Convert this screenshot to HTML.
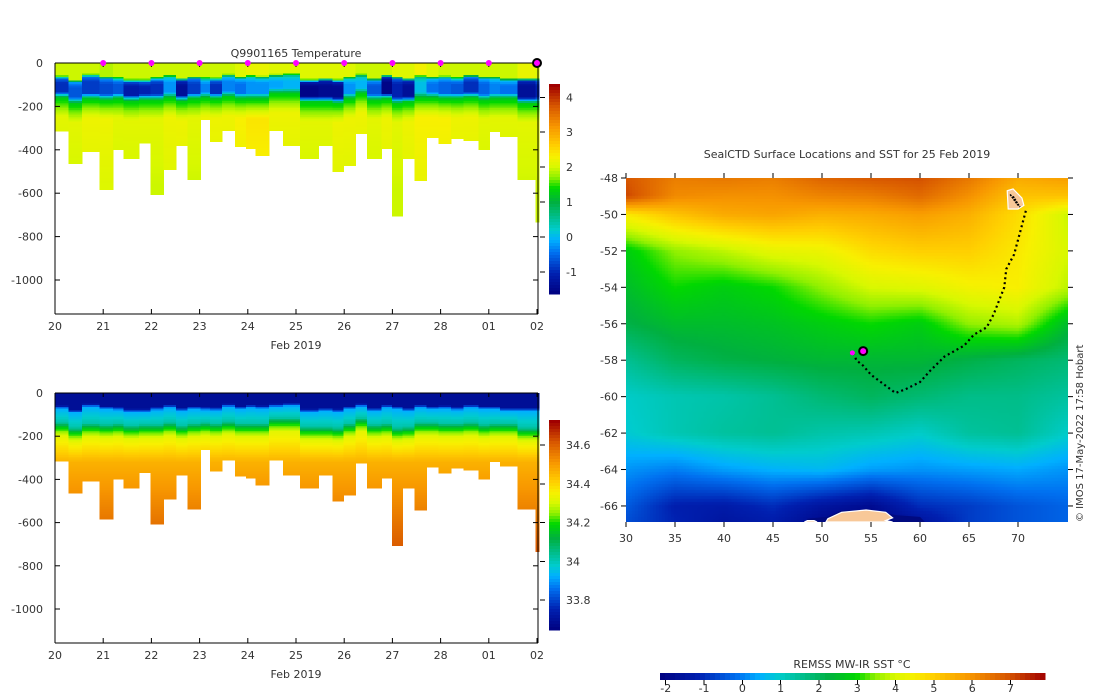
<!DOCTYPE html>
<html><head><meta charset="utf-8">
<style>
body{margin:0;background:#fff;width:1100px;height:700px;overflow:hidden;font-family:"DejaVu Sans","Liberation Sans",sans-serif;}
#root{position:relative;width:1100px;height:700px;}
svg text{font-family:"DejaVu Sans","Liberation Sans",sans-serif;font-size:11px;fill:#333;}
#map{position:absolute;left:626px;top:178px;}
</style></head>
<body><div id="root">
<canvas id="map" width="442" height="344"></canvas>
<svg id="svg" width="1100" height="700" style="position:absolute;left:0;top:0"></svg>
</div>
<script>
// ---------- DATA ----------
const tickDays=[0,1,2,3,4,5,6,7,8,9,10];
const tickLabels=["20","21","22","23","24","25","26","27","28","01","02"];
const depthTicks=[0,-200,-400,-600,-800,-1000];
const profStart=[0,0.285,0.562,0.923,1.208,1.423,1.738,1.985,2.254,2.508,2.754,3.023,3.215,3.462,3.731,3.962,4.162,4.438,4.731,5.085,5.462,5.754,5.985,6.231,6.477,6.769,6.992,7.208,7.454,7.708,7.954,8.215,8.477,8.785,9.015,9.231,9.6,9.969];
const profEnd=10.04;
const maxDepth=[314,463,408,583,399,440,368,606,491,380,537,261,362,311,385,394,426,311,380,440,380,500,472,325,440,394,706,440,541,343,371,348,356,399,316,339,537,733];
const mld=[58,77,50,61,64,74,74,64,54,69,61,64,66,50,61,54,58,50,46,74,69,74,61,49,69,54,61,69,54,61,58,64,54,61,61,69,69,69];
const coreTemp=[-0.9,-0.6,-0.8,-0.7,-0.6,-1.1,-1.0,-0.9,-0.2,-1.3,-0.8,-0.3,-0.9,-0.3,-0.4,-0.2,-0.2,-0.1,0.0,-1.5,-1.4,-1.4,-0.2,0.0,-0.6,-1.5,-1.0,-1.3,0.1,-0.4,-0.5,-0.6,-0.9,-0.5,-0.3,-0.4,-1.3,-1.0];
const coreBot=[160,185,165,170,165,175,170,170,160,175,165,160,165,155,165,165,165,140,140,180,180,185,165,140,170,165,185,180,160,160,165,165,160,170,165,165,185,185];
const surfTemp=[2.0,2.0,2.0,1.9,2.0,2.0,2.0,2.0,2.0,2.0,2.0,2.0,2.0,2.0,2.1,2.2,2.2,2.1,2.1,2.1,2.1,2.1,2.1,2.0,2.0,2.0,2.1,2.1,2.3,2.1,2.0,2.0,2.0,2.0,2.0,2.0,2.2,2.1];
const deepTemp=[2.0,2.0,2.1,2.1,2.0,2.0,2.0,2.0,2.1,2.1,2.0,2.1,2.1,2.1,2.2,2.3,2.3,2.1,2.1,2.0,2.0,2.1,2.1,2.1,2.0,2.1,2.0,2.1,2.2,2.2,2.2,2.1,2.1,2.0,2.0,2.0,2.0,2.0];
const markerDays=[1,2,3,4,5,6,7,8,9];
const tempCbTicks=[4,3,2,1,0,-1];
const salCbTicks=[34.6,34.4,34.2,34,33.8];
const mapLons=[30,35,40,45,50,55,60,65,70,75];
const mapLats=[-48,-49,-50,-52,-54,-56,-58,-60,-62,-64,-66,-67];
const sstGrid=[
[6.9,6.3,6.4,6.3,6.7,6.9,7.0,6.4,5.6,5.8],
[7.1,6.1,6.0,6.0,6.2,6.3,6.6,6.0,5.2,5.2],
[4.6,5.2,5.6,5.7,5.5,5.6,5.8,5.5,4.8,3.9],
[2.8,3.5,3.8,4.2,4.3,4.8,5.0,5.0,4.6,4.0],
[2.5,3.0,2.8,3.0,3.5,4.0,4.1,4.4,4.5,3.8],
[2.2,2.5,2.5,2.6,2.8,3.0,2.8,3.5,3.7,2.5],
[1.5,2.0,2.2,2.3,2.4,2.4,2.4,2.2,2.0,1.8],
[1.0,1.2,1.3,1.5,1.8,2.0,1.8,1.6,1.6,1.4],
[0.9,1.2,1.4,1.5,1.3,1.2,1.0,1.4,1.5,1.0],
[0.2,0.0,0.3,0.5,0.6,0.3,0.2,0.3,0.4,0.2],
[-0.4,-1.2,-1.3,-1.0,-1.5,-1.8,-1.0,-0.8,-0.5,-0.3],
[-0.6,-1.1,-1.5,-1.3,-1.9,-2.0,-1.6,-0.8,-0.5,-0.3]];
const trackLon=[70.8,70.3,69.6,68.8,68.6,67.5,66.8,65.5,64.5,62.5,61,60,58.5,57.5,56.5,55,54.2,53.5,53.3];
const trackLat=[-49.8,-50.8,-52.2,-53.0,-54.0,-55.5,-56.2,-56.6,-57.2,-57.8,-58.6,-59.2,-59.6,-59.8,-59.4,-58.8,-58.3,-58.0,-57.7];
const sstTicks=[-2,-1,0,1,2,3,4,5,6,7];
const mapXTicks=[30,35,40,45,50,55,60,65,70];
const mapYTicks=[-48,-50,-52,-54,-56,-58,-60,-62,-64,-66];

// ---------- helpers ----------
const NS="http://www.w3.org/2000/svg";
const svgRoot=document.getElementById('svg');
function el(t,a,p){const e=document.createElementNS(NS,t);for(const k in a)e.setAttribute(k,a[k]);(p||svgRoot).appendChild(e);return e;}
const stops=[[0,[0,0,127]],[0.1,[0,32,176]],[0.2,[0,112,240]],[0.26,[0,176,255]],[0.31,[0,204,204]],[0.37,[0,190,140]],[0.44,[0,176,64]],[0.51,[0,216,0]],[0.56,[144,240,0]],[0.61,[216,248,0]],[0.66,[248,240,0]],[0.71,[255,208,0]],[0.8,[248,152,0]],[0.9,[216,88,0]],[1,[160,0,0]]];
function cmapRGB(t){t=Math.max(0,Math.min(1,t));for(let i=1;i<stops.length;i++){if(t<=stops[i][0]){const a=stops[i-1],b=stops[i],f=(t-a[0])/(b[0]-a[0]);return a[1].map((v,j)=>Math.round(v+(b[1][j]-v)*f));}}return stops[stops.length-1][1];}
function cmap(t){const c=cmapRGB(t);return `rgb(${c[0]},${c[1]},${c[2]})`;}
function lerp(a,b,f){return a+(b-a)*Math.max(0,Math.min(1,f));}

function tempAt(i,z){
  const m=mld[i],cb=coreBot[i];
  if(z<m) return surfTemp[i];
  if(z<m+15) return lerp(surfTemp[i],coreTemp[i]+0.4,(z-m)/15);
  if(z<cb-25) return lerp(coreTemp[i]+0.4,coreTemp[i],(z-m-15)/20);
  if(z<cb) return lerp(coreTemp[i],1.3,(z-cb+25)/25);
  if(z<cb+90) return lerp(1.3,deepTemp[i]+0.15,(z-cb)/90);
  return lerp(deepTemp[i]+0.15,deepTemp[i],(z-cb-90)/300);
}
function salAt(i,z){
  const m=mld[i],cb=coreBot[i];
  if(z<m) return 33.7;
  if(z<m+15) return lerp(33.7,33.93,(z-m)/15);
  if(z<cb-25) return lerp(33.93,34.02,(z-m-15)/(cb-40-m));
  if(z<cb) return lerp(34.02,34.18,(z-cb+25)/25);
  if(z<cb+40) return lerp(34.18,34.33,(z-cb)/40);
  if(z<320) return lerp(34.33,34.47,(z-cb-40)/(320-cb-40));
  return lerp(34.47,34.62,(z-320)/400);
}

function section(opt){
  const x0=55,x1=537;
  const X=d=>x0+(d/10)*(x1-x0);
  const Y=z=>opt.y0+(-z/1000)*(opt.y1000-opt.y0);
  const g=el('g',{'shape-rendering':'crispEdges'});
  
  
  for(let i=0;i<profStart.length;i++){
    const xa=X(profStart[i]),xb=X(i+1<profStart.length?profStart[i+1]:profEnd);
    for(let z=0;z<maxDepth[i];z+=8){
      const z2=Math.min(z+8,maxDepth[i]);
      const v=opt.f(i,z+4);
      const r=el('rect',{x:xa,y:Y(-z),width:xb-xa+0.5,height:Y(-z2)-Y(-z)+0.5,fill:cmap((v-opt.vmin)/(opt.vmax-opt.vmin))},g);
      
      
    }
  }
  const yb=opt.ybot;
  const ax=el('g',{stroke:'#000','stroke-width':1,fill:'none'});
  
  
  el('line',{x1:x0,y1:opt.y0,x2:x0,y2:yb},ax);
  el('line',{x1:x0,y1:yb,x2:x1+1,y2:yb},ax);
  el('line',{x1:x0,y1:opt.y0,x2:x1+1,y2:opt.y0},ax);
  el('line',{x1:x1+1,y1:opt.y0,x2:x1+1,y2:yb},ax);
  tickDays.forEach((d,k)=>{
    el('line',{x1:X(d),y1:yb,x2:X(d),y2:yb-5},ax);
    el('line',{x1:X(d),y1:opt.y0,x2:X(d),y2:opt.y0+4},ax);
    const t=el('text',{x:X(d),y:yb+16,'text-anchor':'middle'});t.textContent=tickLabels[k];
    
  });
  depthTicks.forEach(v=>{
    el('line',{x1:x0,y1:Y(v),x2:x0+5,y2:Y(v)},ax);
    el('line',{x1:x1+1,y1:Y(v),x2:x1-4,y2:Y(v)},ax);
    const t=el('text',{x:x0-12,y:Y(v)+4,'text-anchor':'end'});t.textContent=v;
    
  });
  const xl=el('text',{x:296,y:yb+35,'text-anchor':'middle'});xl.textContent='Feb 2019';
  
  const cb=el('g',{'shape-rendering':'crispEdges'});
  
  const ct=opt.cbTop,cbb=opt.cbBot;
  for(let y=ct;y<cbb;y+=3){const t=1-(y-ct)/(cbb-ct);el('rect',{x:549,y:y,width:11,height:3.5,fill:cmap(t)},cb);}
  opt.cbTicks.forEach(v=>{
    const y=cbb-(v-opt.vmin)/(opt.vmax-opt.vmin)*(cbb-ct);
    el('line',{x1:540,y1:y,x2:545,y2:y,stroke:'#000'},cb);
    const t=el('text',{x:566,y:y+4});t.textContent=v;
    
  });
  return {X,Y};
}

const topSec=section({name:'temperature',y0:63,y1000:280,ybot:314,f:tempAt,vmin:-1.6,vmax:4.38,cbTop:84,cbBot:293,cbTicks:tempCbTicks});
const ttl=el('text',{x:296,y:57,'text-anchor':'middle'});ttl.textContent='Q9901165  Temperature';

markerDays.forEach(d=>{
  const c=el('circle',{cx:topSec.X(d),cy:63,r:3,fill:'#ff00ff'});
  
});
const lm=el('circle',{cx:topSec.X(10),cy:63,r:4,fill:'#ff00ff',stroke:'#000','stroke-width':2});


section({name:'salinity',y0:393,y1000:609,ybot:643,f:salAt,vmin:33.65,vmax:34.73,cbTop:420,cbBot:629,cbTicks:salCbTicks});

// ---------- MAP ----------
const mx0=626,my0=178;
const LX=l=>mx0+(l-30)*9.8;
const LY=l=>my0+(-48-l)*18.22;
const svmin=-2.15,svmax=7.9;
(function(){
  const cv=document.getElementById('map'),ctx=cv.getContext('2d');
  function sst(lon,lat){
    let j=0;while(j<mapLons.length-2&&lon>mapLons[j+1])j++;
    let i=0;while(i<mapLats.length-2&&lat<mapLats[i+1])i++;
    const fx=Math.max(0,Math.min(1,(lon-mapLons[j])/(mapLons[j+1]-mapLons[j])));
    const fy=Math.max(0,Math.min(1,(lat-mapLats[i])/(mapLats[i+1]-mapLats[i])));
    const a=sstGrid[i][j],b=sstGrid[i][j+1],c=sstGrid[i+1][j],d=sstGrid[i+1][j+1];
    return (a*(1-fx)+b*fx)*(1-fy)+(c*(1-fx)+d*fx)*fy;
  }
  for(let py=0;py<344;py+=3)for(let px=0;px<442;px+=3){
    const lon=30+(px+1.5)/9.8,lat=-48-(py+1.5)/18.22;
    ctx.fillStyle=cmap((sst(lon,lat)-svmin)/(svmax-svmin));ctx.fillRect(px,py,3,3);
  }
})();
const land=el('g',{});

el('path',{d:`M${LX(48.5)},522 L${LX(48.5)},${LY(-66.7)} L${LX(50.5)},${LY(-66.6)} L${LX(52)},${LY(-66.25)} L${LX(55)},${LY(-66.2)} L${LX(57.5)},${LY(-66.5)} L${LX(60)},${LY(-66.6)} L${LX(60.5)},522 Z`,fill:'#000a80'},land);
el('path',{d:`M${LX(50.4)},522 L${LX(50.6)},${LY(-66.7)} L${LX(52)},${LY(-66.35)} L${LX(54.5)},${LY(-66.22)} L${LX(56.5)},${LY(-66.35)} L${LX(57.2)},${LY(-66.65)} L${LX(56.5)},${LY(-66.8)} L${LX(57.2)},522 Z`,fill:'#f8c898',stroke:'#fff','stroke-width':1.2},land);
el('path',{d:`M${LX(48.2)},522 L${LX(48.5)},${LY(-66.8)} L${LX(49.2)},${LY(-66.8)} L${LX(49.5)},522 Z`,fill:'#f8c898',stroke:'#fff','stroke-width':1},land);
el('path',{d:`M${LX(68.9)},${LY(-48.7)} L${LX(69.5)},${LY(-48.6)} L${LX(70.4)},${LY(-49.1)} L${LX(70.6)},${LY(-49.5)} L${LX(70)},${LY(-49.7)} L${LX(69)},${LY(-49.7)} Z`,fill:'#f8c898',stroke:'#fff','stroke-width':1.2},land);
el('path',{d:`M${LX(69.2)},${LY(-48.9)} L${LX(70)},${LY(-49.5)} M${LX(69.5)},${LY(-49)} L${LX(70.2)},${LY(-49.6)}`,stroke:'#000','stroke-width':1.5,'stroke-dasharray':'2,1'},land);
let pd='';trackLon.forEach((l,k)=>{pd+=(k?'L':'M')+LX(l)+','+LY(trackLat[k]);});
const tr=el('path',{d:pd,fill:'none',stroke:'#000','stroke-width':2.2,'stroke-dasharray':'2,3'});

const m1=el('circle',{cx:LX(53.1),cy:LY(-57.6),r:2.5,fill:'#ff00ff'});

const m2=el('circle',{cx:LX(54.2),cy:LY(-57.5),r:4,fill:'#ff00ff',stroke:'#000','stroke-width':2});

const mt=el('text',{x:847,y:158,'text-anchor':'middle'});mt.textContent='SealCTD Surface Locations and SST for 25 Feb 2019';

const mapAx=el('g',{stroke:'#000'});

mapXTicks.forEach(v=>{
  el('line',{x1:LX(v),y1:522,x2:LX(v),y2:527},mapAx);el('line',{x1:LX(v),y1:178,x2:LX(v),y2:173},mapAx);
  const t=el('text',{x:LX(v),y:542,'text-anchor':'middle',stroke:'none'});t.textContent=v;
  
});
mapYTicks.forEach(v=>{
  el('line',{x1:621,y1:LY(v),x2:626,y2:LY(v)},mapAx);el('line',{x1:1068,y1:LY(v),x2:1073,y2:LY(v)},mapAx);
  const t=el('text',{x:618,y:LY(v)+4,'text-anchor':'end',stroke:'none'});t.textContent=v;
  
});
const cr=el('text',{x:0,y:0,transform:'translate(1083,522) rotate(-90)'});
cr.setAttribute('style','font-size:10px');cr.textContent='© IMOS 17-May-2022 17:58 Hobart';

const scb=el('g',{'shape-rendering':'crispEdges'});

for(let x=660;x<1045;x+=5){el('rect',{x:x,y:673,width:5.5,height:7,fill:cmap((x+2.5-660)/385)},scb);}
const SX=v=>660+(v-svmin)/(svmax-svmin)*385;
sstTicks.forEach(v=>{
  el('line',{x1:SX(v),y1:680,x2:SX(v),y2:685,stroke:'#000'},scb);
  const t=el('text',{x:SX(v),y:692,'text-anchor':'middle'});t.textContent=v;
  
});
const sl=el('text',{x:852,y:668,'text-anchor':'middle'});sl.textContent='REMSS MW-IR SST °C';

</script>
</body></html>
